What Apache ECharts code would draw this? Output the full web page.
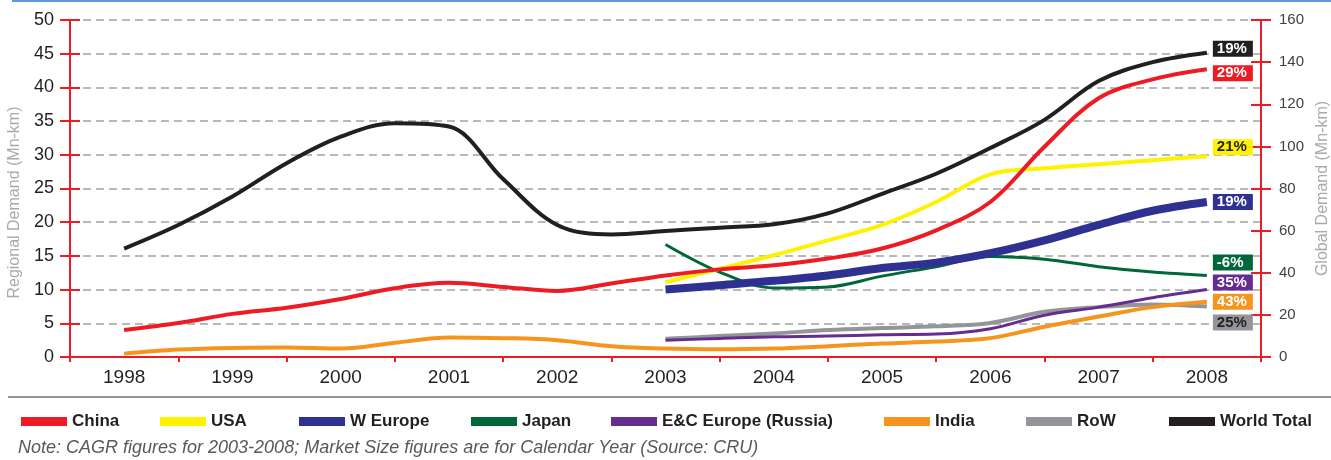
<!DOCTYPE html>
<html>
<head>
<meta charset="utf-8">
<title>Regional and Global Demand (Mn-km)</title>
<script src="https://cdn.jsdelivr.net/npm/echarts@6/dist/echarts.min.js"></script>
<style>
  html, body { margin: 0; padding: 0; background: #ffffff; }
  #chart { width: 1331px; height: 460px; }
</style>
</head>
<body>
<div id="chart"></div>
<script>
// Year labels on the category axis
const years = ['1998', '1999', '2000', '2001', '2002', '2003', '2004', '2005', '2006', '2007', '2008'];

// Sample positions (half-year steps) shared by every series
const sampleYears = [1998, 1998.5, 1999, 1999.5, 2000, 2000.5, 2001, 2001.5, 2002, 2002.5,
                     2003, 2003.5, 2004, 2004.5, 2005, 2005.5, 2006, 2006.5, 2007, 2007.5, 2008];

// Regional demand, Mn-km (left axis); null where a region has no figures
const china   = [4.0, 5.05, 6.4, 7.3, 8.6, 10.2, 11.0, 10.4, 9.8, 10.9,
                 12.1, 13.0, 13.6, 14.6, 16.1, 18.8, 23.0, 31.2, 38.4, 41.2, 42.7];
const usa     = [null, null, null, null, null, null, null, null, null, null,
                 11.1, 13.1, 15.1, 17.3, 19.6, 23.0, 27.1, 28.0, 28.6, 29.2, 29.8];
const wEurope = [null, null, null, null, null, null, null, null, null, null,
                 10.0, 10.65, 11.3, 12.1, 13.2, 14.0, 15.4, 17.3, 19.6, 21.7, 23.0];
const japan   = [null, null, null, null, null, null, null, null, null, null,
                 16.7, 12.6, 10.25, 10.4, 12.0, 13.4, 14.9, 14.5, 13.4, 12.6, 12.1];
const ecEurope = [null, null, null, null, null, null, null, null, null, null,
                 2.5, 2.75, 3.0, 3.1, 3.3, 3.4, 4.2, 6.2, 7.4, 8.8, 10.0];
const india   = [0.5, 1.1, 1.35, 1.4, 1.25, 2.1, 2.9, 2.8, 2.5, 1.6,
                 1.25, 1.15, 1.25, 1.6, 2.0, 2.3, 2.8, 4.5, 6.0, 7.4, 8.2];
const row     = [null, null, null, null, null, null, null, null, null, null,
                 2.7, 3.1, 3.5, 4.0, 4.3, 4.55, 5.05, 6.7, 7.4, 7.8, 7.5];

// Global demand, Mn-km (right axis)
const worldTotal = [51.5, 62.7, 76.2, 92.0, 104.6, 111.0, 109.4, 84.5, 62.7, 58.2,
                    59.8, 61.4, 63.0, 68.2, 77.5, 87.0, 99.2, 112.6, 131.0, 140.0, 144.5];

// CAGR 2003-2008 labels shown at the end of each line
const cagrLabels = {
  'China': '29%', 'USA': '21%', 'W Europe': '19%', 'Japan': '-6%',
  'E&C Europe (Russia)': '35%', 'India': '43%', 'RoW': '25%', 'World Total': '19%'
};

// Axis tick values
const leftTicks = { min: 0, max: 50, interval: 5 };
const rightTicks = { min: 0, max: 160, interval: 20 };

const RED = '#ed1c24';
const AXIS_TEXT = '#231f20';
const FONT = "'Liberation Sans', Arial, sans-serif";

function pairs(values) {
  return sampleYears.map((x, i) => [x, values[i]]);
}

function lineSeries(name, values, color, width, yAxisIndex, labelStyle, z) {
  return {
    name: name,
    type: 'line',
    xAxisIndex: 1,
    yAxisIndex: yAxisIndex,
    data: pairs(values),
    smooth: 0.35,
    showSymbol: false,
    symbol: 'none',
    connectNulls: false,
    z: z,
    lineStyle: { color: color, width: width, cap: 'butt', join: 'round' },
    itemStyle: { color: color },
    emphasis: { disabled: true },
    endLabel: {
      show: true,
      formatter: () => cagrLabels[name],
      distance: 6,
      offset: [0, labelStyle.dy],
      color: labelStyle.text,
      backgroundColor: labelStyle.bg,
      fontFamily: FONT,
      fontWeight: 'bold',
      fontSize: 15,
      lineHeight: 16,
      width: 32,
      align: 'left',
      padding: [0, 4, 0, 4]
    }
  };
}

const chart = echarts.init(document.getElementById('chart'), null, { renderer: 'canvas' });

const legendNames = ['China', 'USA', 'W Europe', 'Japan', 'E&C Europe (Russia)', 'India', 'RoW', 'World Total'];
const legendLefts = [16, 155, 294, 466, 606, 879, 1021, 1164];

const legends = legendNames.map((n, i) => ({
  data: [n],
  left: legendLefts[i],
  top: 408,
  icon: 'rect',
  itemWidth: 46,
  itemHeight: 9,
  itemGap: 5,
  selectedMode: false,
  textStyle: {
    color: AXIS_TEXT,
    fontFamily: FONT,
    fontWeight: 'bold',
    fontSize: 17
  }
}));

function valueAxis(position, ticks, main, name) {
  const left = position === 'left';
  return {
    type: 'value',
    position: position,
    min: ticks.min,
    max: ticks.max,
    interval: ticks.interval,
    name: main ? name : '',
    nameLocation: 'middle',
    nameGap: left ? 37 : 54,
    nameTextStyle: {
      color: '#a7a9ac',
      fontFamily: FONT,
      fontSize: 16,
      padding: left ? [0, 28, 0, 0] : [0, 0, 0, 0]
    },
    axisLine: { show: main, lineStyle: { color: RED, width: 2 } },
    axisTick: { show: true, inside: !main, length: 10, lineStyle: { color: RED, width: 2 } },
    axisLabel: {
      show: main,
      color: left ? AXIS_TEXT : '#414042',
      fontFamily: FONT,
      fontSize: left ? 18 : 15,
      margin: left ? 16 : 18
    },
    splitLine: {
      show: main && left,
      lineStyle: { color: '#a3a3a3', width: 1.5, type: [8, 5] }
    }
  };
}

const option = {
  backgroundColor: '#ffffff',
  animation: false,
  grid: { left: 70, right: 70, top: 20, bottom: 103, containLabel: false, outerBoundsMode: 'none' },
  legend: legends,
  xAxis: [
    {
      type: 'category',
      data: years,
      boundaryGap: true,
      axisLine: { lineStyle: { color: RED, width: 2 } },
      axisTick: { show: true, length: 5, lineStyle: { color: RED, width: 2 } },
      axisLabel: { color: AXIS_TEXT, fontFamily: FONT, fontSize: 19, margin: 11 },
      splitLine: { show: false }
    },
    {
      type: 'value',
      min: 1997.5,
      max: 2008.5,
      show: false
    },
    {
      type: 'category',
      data: years,
      boundaryGap: true,
      axisLine: { show: false },
      axisTick: { show: true, inside: true, length: 5, lineStyle: { color: RED, width: 2 } },
      axisLabel: { show: false },
      splitLine: { show: false }
    }
  ],
  yAxis: [
    valueAxis('left', leftTicks, true, 'Regional Demand (Mn-km)'),
    valueAxis('right', rightTicks, true, 'Global Demand (Mn-km)'),
    valueAxis('left', leftTicks, false, ''),
    valueAxis('right', rightTicks, false, '')
  ],
  series: [
    lineSeries('RoW', row, '#939598', 4, 0, { bg: '#939598', text: '#231f20', dy: 16 }, 2),
    lineSeries('India', india, '#f7941d', 4, 0, { bg: '#f7941d', text: '#ffffff', dy: 0 }, 3),
    lineSeries('E&C Europe (Russia)', ecEurope, '#662d91', 3, 0, { bg: '#662d91', text: '#ffffff', dy: -7 }, 4),
    lineSeries('Japan', japan, '#006838', 3, 0, { bg: '#006838', text: '#ffffff', dy: -13 }, 5),
    lineSeries('USA', usa, '#fff200', 4, 0, { bg: '#fff200', text: '#231f20', dy: -9 }, 6),
    lineSeries('W Europe', wEurope, '#2e3192', 8, 0, { bg: '#2e3192', text: '#ffffff', dy: 0 }, 7),
    lineSeries('China', china, RED, 4, 0, { bg: RED, text: '#ffffff', dy: 4 }, 8),
    lineSeries('World Total', worldTotal, '#231f20', 4, 1, { bg: '#231f20', text: '#ffffff', dy: -4 }, 9)
  ],
  graphic: [
    { type: 'rect', left: 12, top: 0, shape: { width: 1319, height: 2 }, style: { fill: '#5b9bd5' }, silent: true },
    { type: 'rect', left: 8, top: 396, shape: { width: 1323, height: 2 }, style: { fill: '#939598' }, silent: true },
    {
      type: 'text',
      left: 18,
      top: 439,
      silent: true,
      style: {
        text: 'Note: CAGR figures for 2003-2008; Market Size figures are for Calendar Year (Source: CRU)',
        fill: '#58595b',
        fontFamily: FONT,
        fontStyle: 'italic',
        fontSize: 18
      }
    }
  ]
};

chart.setOption(option);
</script>
</body>
</html>
